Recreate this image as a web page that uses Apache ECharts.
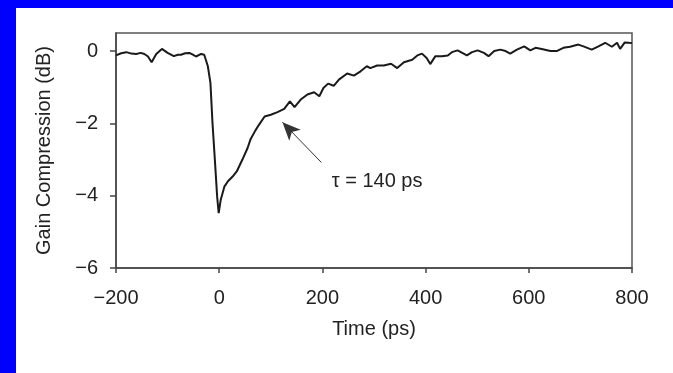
<!DOCTYPE html>
<html>
<head>
<meta charset="utf-8">
<script src="https://cdn.jsdelivr.net/npm/echarts@6/dist/echarts.min.js"></script>
<style>
  html, body { margin: 0; padding: 0; background: #ffffff; }
  #chart { width: 673px; height: 373px; }
</style>
</head>
<body>
<div id="chart"></div>
<script>
// ---- Data ----
var timePs = [-200, -190, -180, -170, -161, -152, -145, -138, -131, -122, -111, -100, -88, -80, -74, -66, -58, -51, -45, -35, -29,
  -22, -17, -13, -8, -4, -1, 3, 10, 17, 26, 34, 45, 55, 61, 70, 77, 88, 100, 113, 126, 137, 146, 158, 171, 184, 194,
  202, 211, 222, 232, 248, 261, 274, 286, 293, 306, 319, 333, 345, 358, 374, 384, 393, 402, 409, 419, 432, 443,
  451, 462, 471, 480, 490, 501, 513, 522, 533, 545, 555, 564, 577, 591, 603, 613, 625, 642, 654, 667, 680, 696,
  706, 722, 735, 748, 761, 771, 777, 786, 793, 800];
var gainDb = [-0.12, -0.06, -0.03, -0.07, -0.08, -0.05, -0.08, -0.15, -0.31, -0.08, 0.06, -0.05, -0.14, -0.10, -0.10, -0.06, -0.05, -0.10, -0.15, -0.08, -0.10,
  -0.42, -0.88, -1.99, -3.10, -4.02, -4.48, -4.11, -3.75, -3.60, -3.47, -3.33, -3.00, -2.68, -2.43, -2.20, -2.04, -1.81, -1.76, -1.69, -1.60, -1.39, -1.55, -1.34, -1.20, -1.14, -1.25,
  -1.02, -0.90, -0.96, -0.79, -0.62, -0.68, -0.56, -0.42, -0.47, -0.40, -0.40, -0.35, -0.47, -0.31, -0.24, -0.12, -0.07, -0.19, -0.36, -0.14, -0.14, -0.12,
  -0.03, 0.02, -0.05, -0.12, -0.03, 0.02, -0.05, -0.14, 0.00, 0.04, 0.00, -0.07, 0.04, 0.13, 0.02, 0.09, 0.06, 0.00, 0.00, 0.09, 0.12, 0.18,
  0.13, 0.04, 0.13, 0.23, 0.12, 0.23, 0.06, 0.24, 0.23, 0.22];
var xTicks = [-200, 0, 200, 400, 600, 800];
var yTicks = [-6, -4, -2, 0];
var annotationText = 'τ = 140 ps';
var arrowFrom = [198, -3.08];
var arrowTo = [122.6, -1.97];
var textAt = [306, -3.6];

// ---- Chart ----
var pts = timePs.map(function (t, i) { return [t, gainDb[i]]; });
function fmt(v) { return String(v).replace('-', '\u2212'); }
var font = 'Liberation Sans, Arial, Helvetica, sans-serif';

var chart = echarts.init(document.getElementById('chart'), null, { renderer: 'canvas' });
chart.setOption({
  animation: false,
  backgroundColor: '#ffffff',
  graphic: [
    { type: 'rect', shape: { x: 0, y: 0, width: 16, height: 373 }, style: { fill: '#0000ff' }, silent: true },
    { type: 'rect', shape: { x: 0, y: 0, width: 673, height: 8 }, style: { fill: '#0000ff' }, silent: true }
  ],
  grid: { left: 116, right: 41, top: 33, bottom: 105, show: true, borderColor: '#555', borderWidth: 1.5, backgroundColor: 'transparent' },
  xAxis: {
    type: 'value', min: -200, max: 800, interval: 200,
    name: 'Time (ps)', nameLocation: 'middle', nameGap: 51,
    nameTextStyle: { fontSize: 20, color: '#222', fontFamily: font },
    axisLine: { show: true, onZero: false, lineStyle: { color: '#444', width: 1.5 } },
    axisTick: { show: true, inside: false, length: 5, lineStyle: { color: '#444', width: 1.5 } },
    axisLabel: { fontSize: 20, color: '#222', fontFamily: font, margin: 20,
      formatter: function (v) { return xTicks.indexOf(v) >= 0 ? fmt(v) : ''; } },
    splitLine: { show: false }
  },
  yAxis: {
    type: 'value', min: -6, max: 0.5, interval: 2,
    name: 'Gain Compression (dB)', nameLocation: 'middle', nameGap: 62,
    nameTextStyle: { fontSize: 20, color: '#222', fontFamily: font },
    axisLine: { show: true, onZero: false, lineStyle: { color: '#444', width: 1.5 } },
    axisTick: { show: true, inside: false, length: 6, customValues: yTicks, lineStyle: { color: '#444', width: 1.5 } },
    axisLabel: { fontSize: 20, color: '#222', fontFamily: font, margin: 18, customValues: yTicks,
      formatter: function (v) { return yTicks.indexOf(v) >= 0 ? fmt(v) : ''; } },
    splitLine: { show: false }
  },
  series: [{
    type: 'line',
    data: pts,
    showSymbol: false,
    symbol: 'none',
    lineStyle: { color: '#1a1a1a', width: 2 },
    silent: true,
    markLine: {
      silent: true,
      symbol: ['none', 'arrow'],
      symbolSize: [12, 18],
      label: { show: false },
      lineStyle: { color: '#333', width: 1, type: 'solid' },
      emphasis: { disabled: true },
      data: [[{ coord: arrowFrom }, { coord: arrowTo }]]
    },
    markPoint: {
      silent: true,
      symbol: 'circle',
      symbolSize: 0,
      label: { show: true, position: 'inside', formatter: annotationText, fontSize: 20, color: '#222', fontFamily: font },
      data: [{ coord: textAt }]
    }
  }]
});
</script>
</body>
</html>
